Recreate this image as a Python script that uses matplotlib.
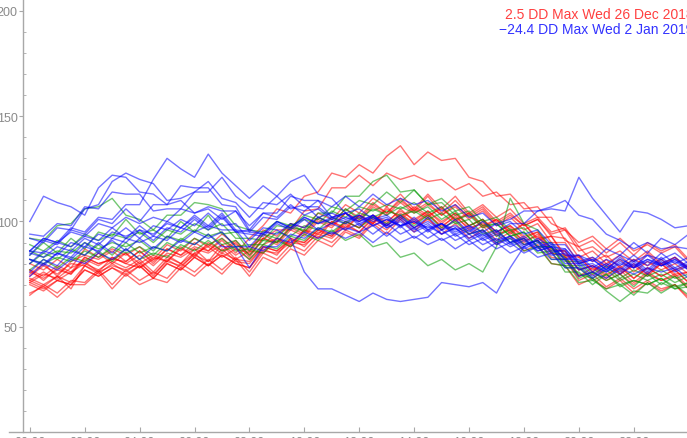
import numpy as np
import matplotlib
matplotlib.use("Agg")
import matplotlib.pyplot as plt

# half-hourly demand profiles, one list per day
hours = np.arange(0, 24.5, 0.5)

red_days = [
    [66,69,64,70,70,76,68,75,70,73,71,78,74,80,75,82,74,83,80,87,84,91,88,95,92,99,94,101,95,102,94,99,92,96,89,93,86,89,80,79,70,73,68,72,66,71,67,70,64],
    [70,67,72,70,77,74,78,74,79,73,80,77,83,79,84,80,78,87,84,92,88,95,93,99,95,102,98,104,99,104,97,103,96,100,93,97,90,94,85,84,74,78,73,77,71,76,72,75,69],
    [72,69,74,68,79,75,80,76,81,74,82,78,85,79,87,81,80,88,86,91,90,96,93,100,97,103,99,106,100,105,99,104,98,101,95,98,92,95,86,86,77,79,74,79,73,78,74,77,71],
    [71,75,73,78,81,76,83,80,78,82,84,80,85,88,83,87,82,89,92,88,96,92,100,96,103,99,107,101,106,102,107,100,104,97,101,94,99,91,93,84,83,77,80,75,79,74,80,75,76],
    [77,72,78,75,83,80,82,85,78,83,81,87,84,89,85,90,83,92,89,96,93,100,97,104,100,107,103,109,104,108,103,107,101,105,98,102,96,99,90,90,80,83,78,82,76,81,77,80,75],
    [75,80,74,81,84,82,86,81,86,80,87,84,90,86,92,87,85,94,90,98,95,102,99,106,102,109,104,111,105,112,104,110,103,107,100,104,98,101,93,92,83,86,80,84,78,85,79,83,77],
    [80,77,82,78,87,83,87,84,88,82,89,86,92,88,94,89,86,96,93,99,97,104,101,108,104,111,107,113,106,113,106,112,104,108,102,106,99,102,95,97,88,91,85,90,84,90,86,89,82],
    [65,70,66,72,71,77,70,77,72,76,73,80,76,82,77,83,76,85,82,89,86,93,90,96,93,100,96,102,97,101,96,101,94,98,91,95,89,91,83,82,72,75,69,73,68,72,68,70,63],
    [72,76,72,76,80,77,81,78,82,76,83,80,87,81,89,82,86,85,92,89,96,94,100,97,103,99,106,102,107,103,106,101,104,98,101,95,99,92,93,83,84,76,82,75,80,75,80,74,76],
    [73,70,74,71,79,76,79,77,80,75,81,79,84,81,85,82,81,88,86,92,90,96,94,100,97,103,100,105,101,105,100,104,98,101,95,98,93,95,87,86,77,79,75,78,73,78,74,77,71],
    [77,74,79,76,83,80,82,81,86,81,87,84,88,86,91,85,92,98,106,104,112,114,123,121,127,123,131,136,127,133,129,130,121,119,112,113,106,107,99,96,86,88,83,86,81,86,80,83,78],
    [76,73,77,75,82,79,83,80,84,79,85,83,87,85,89,84,88,92,96,96,105,106,116,116,122,117,123,120,122,119,120,115,118,112,114,108,109,102,102,91,88,81,84,78,82,79,82,77,79],
    [74,79,75,80,79,85,80,85,80,84,81,88,83,90,86,91,84,92,90,97,94,101,98,104,101,108,104,110,105,109,103,108,102,106,99,103,98,101,94,96,90,93,87,92,86,89,85,88,81],
    [71,68,72,70,77,74,78,75,79,73,80,77,83,79,84,80,78,86,85,90,89,94,92,98,95,101,98,103,99,103,98,102,97,99,94,96,91,93,85,83,74,76,72,75,70,75,72,74,68],
]

green_days = [
    [84,90,85,92,87,95,93,101,94,96,92,100,95,103,94,95,86,94,92,99,95,102,99,106,101,106,103,107,104,107,101,105,98,101,93,96,89,91,82,82,73,76,72,75,69,75,70,74,68],
    [92,91,98,99,106,107,111,103,101,96,103,103,109,108,106,98,96,95,100,98,101,99,105,102,107,105,108,106,109,104,107,101,103,97,99,93,95,88,88,78,78,72,75,70,72,70,73,68,71],
    [80,85,82,87,84,89,84,90,85,88,86,92,89,94,89,91,84,91,90,97,96,104,104,112,112,119,122,114,115,108,109,103,105,98,99,93,95,88,88,79,79,73,77,72,75,72,75,71,74],
    [82,80,83,81,86,83,88,85,88,84,90,87,92,89,92,86,87,85,91,88,94,91,96,91,94,88,90,83,85,79,82,77,80,76,88,111,99,96,87,83,75,73,67,62,67,66,71,68,69],
    [86,83,86,85,90,87,90,88,91,86,93,91,96,93,95,88,89,89,95,93,98,96,102,99,104,102,105,103,105,101,104,99,101,94,96,90,92,85,86,76,76,70,75,69,72,70,73,69,71],
    [77,82,78,83,81,86,81,87,82,85,83,89,86,91,86,88,82,89,87,93,91,97,95,100,97,102,99,103,98,103,97,100,94,96,90,92,86,88,80,79,71,72,68,70,65,71,66,70,65],
    [89,86,91,88,94,91,94,92,95,90,96,94,99,96,99,92,92,91,98,97,103,101,107,105,110,108,114,109,115,108,111,105,107,100,102,96,97,90,90,81,81,75,79,73,77,74,77,73,75],
]

blue_days = [
    [100,112,109,107,103,116,122,121,114,113,108,110,104,106,101,105,98,104,102,108,103,106,101,104,99,102,97,101,96,99,94,97,92,95,90,93,88,91,85,87,80,82,77,82,79,82,80,83,78],
    [86,92,90,97,95,102,101,108,108,120,130,125,121,132,123,117,111,117,112,119,122,113,111,104,106,101,103,98,101,96,99,95,98,93,96,90,93,88,90,84,84,78,82,79,84,79,85,80,83],
    [92,90,97,96,106,108,119,123,120,118,110,111,114,119,111,109,102,109,108,113,107,107,102,104,100,103,98,102,97,100,96,98,94,96,91,93,89,91,86,86,79,80,76,80,78,81,79,81,77],
    [80,86,84,90,88,94,92,97,92,98,96,101,98,104,98,99,91,97,96,92,76,68,68,65,62,66,63,62,63,64,71,70,69,71,66,78,88,92,88,87,80,82,77,83,78,84,79,82,77],
    [82,80,85,83,90,85,92,90,96,91,97,95,101,96,102,95,96,94,100,97,102,99,102,100,103,98,101,98,100,97,99,96,98,95,99,101,105,105,106,105,121,111,103,95,105,104,101,97,98],
    [76,82,79,86,84,90,85,92,90,93,91,97,95,98,96,96,88,95,94,99,97,102,99,102,100,103,98,103,97,102,96,101,95,100,95,99,99,105,107,110,103,101,94,91,87,90,87,88,87],
    [86,85,90,88,93,91,97,92,98,93,100,97,103,98,104,96,95,94,100,97,102,99,101,99,102,98,101,98,100,95,99,93,96,91,94,89,92,86,88,80,80,74,79,76,81,76,82,77,80],
    [74,80,77,82,80,85,82,87,82,88,86,91,89,94,88,88,78,88,88,94,92,97,94,97,95,98,93,98,92,96,91,94,89,92,87,90,85,88,82,82,74,76,73,78,75,78,76,78,73],
    [94,93,99,98,107,106,114,113,113,105,106,106,114,114,121,112,107,106,112,106,108,102,104,101,103,100,102,97,102,96,99,94,97,92,95,90,92,87,89,82,82,76,80,77,82,77,83,78,81],
    [84,91,89,96,94,101,99,106,100,108,108,117,116,116,108,107,96,104,104,112,110,110,102,104,98,103,97,100,95,98,94,97,91,94,89,92,87,90,84,85,77,79,76,81,78,82,79,82,78],
    [82,79,85,82,88,86,91,86,92,87,93,90,95,92,95,88,88,86,92,90,95,92,95,92,95,90,95,90,93,89,92,87,91,86,90,85,88,83,85,78,78,73,78,75,80,75,81,76,79],
    [86,92,90,95,93,99,97,102,99,102,100,106,104,107,105,105,95,102,101,107,105,110,107,112,107,113,108,111,108,110,105,108,102,104,98,100,94,96,89,89,81,83,79,84,81,84,82,85,80],
    [85,83,88,86,92,89,95,93,96,94,99,97,102,97,103,95,94,93,99,96,101,96,99,96,99,94,99,94,97,92,96,91,94,89,92,88,91,86,88,82,84,81,87,84,90,85,92,89,94],
]

tick_hours = list(range(0, 24, 2))
tick_labels = ["00:00", "02:00", "04:00", "06:00", "08:00", "10:00",
               "12:00", "14:00", "16:00", "18:00", "20:00", "22:00"]

red_note = "2.5 DD Max Wed 26 Dec 2018"
blue_note = "\u221224.4 DD Max Wed 2 Jan 2019"

plt.rcParams['font.family'] = ['Liberation Sans', 'DejaVu Sans']

fig = plt.figure(figsize=(6.87, 4.39), dpi=100)
ax = fig.add_axes([9 / 687, 6 / 439, 678 / 687, 433 / 439])

for day in red_days:
    ax.plot(hours, day, color=(1, 0, 0), alpha=0.55, lw=1.0)
for day in green_days:
    ax.plot(hours, day, color=(0, 0.6, 0), alpha=0.55, lw=1.0)
for day in blue_days:
    ax.plot(hours, day, color=(0, 0, 1), alpha=0.55, lw=1.0)

ax.set_xlim(-0.758, 23.94)
ax.set_ylim(0, 205.7)

axis_grey = '#a8a8a8'
for side in ['top', 'right']:
    ax.spines[side].set_visible(False)
ax.spines['left'].set_position(('data', -0.24))
ax.spines['left'].set_color(axis_grey)
ax.spines['bottom'].set_color(axis_grey)
ax.spines['left'].set_linewidth(1.0)
ax.spines['bottom'].set_linewidth(1.0)

ax.set_yticks([50, 100, 150, 200])
ax.set_yticks(range(10, 201, 10), minor=True)
ax.set_xticks(tick_hours)
ax.set_xticklabels(tick_labels)
ax.tick_params(axis='y', which='major', direction='out', length=3, width=0.8,
               color=axis_grey, labelcolor='#8a8a8a', labelsize=9, pad=1)
ax.tick_params(axis='y', which='minor', direction='in', length=2.5, width=0.6,
               color=axis_grey)
ax.tick_params(axis='x', which='major', direction='in', length=3.5, width=0.8,
               color=axis_grey, labelcolor='#8a8a8a', labelsize=9, pad=3)

fig.text(505 / 687, 1 - 15 / 439, red_note, color=(1, 0.25, 0.25),
         fontsize=10, va='center', ha='left')
fig.text(499 / 687, 1 - 30 / 439, blue_note, color=(0.2, 0.2, 1),
         fontsize=10, va='center', ha='left')

fig.savefig('out.png', dpi=100)
